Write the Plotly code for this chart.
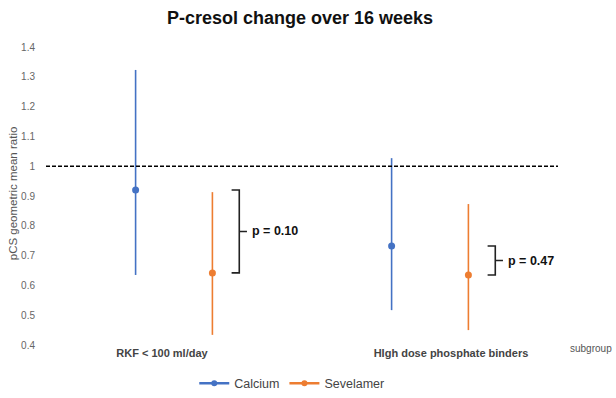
import plotly.graph_objects as go

categories = ["RKF < 100 ml/day", "High dose phosphate binders"]
tick_labels = ["RKF < 100 ml/day", "HIgh dose phosphate binders"]
calcium_mean = [0.92, 0.732]
calcium_upper = [1.323, 1.027]
calcium_lower = [0.635, 0.517]
sevelamer_mean = [0.642, 0.635]
sevelamer_upper = [0.913, 0.873]
sevelamer_lower = [0.434, 0.45]
p_values = ["p = 0.10", "p = 0.47"]
y_ticks = [0.4, 0.5, 0.6, 0.7, 0.8, 0.9, 1.0, 1.1, 1.2, 1.3, 1.4]
y_tick_text = ["0.4", "0.5", "0.6", "0.7", "0.8", "0.9", "1", "1.1", "1.2", "1.3", "1.4"]

BLUE = "#4472C4"
ORANGE = "#ED7D31"
offset = 0.15
xc = list(range(len(categories)))
label_shift = [-0.047, 0.082]

fig = go.Figure()

def add_series(name, color, means, up, lo, dx):
    xs = [x + dx for x in xc]
    fig.add_trace(go.Scatter(
        x=xs, y=means, mode="markers", showlegend=False,
        marker=dict(color=color, size=7),
        error_y=dict(type="data", symmetric=False,
                     array=[u - m for u, m in zip(up, means)],
                     arrayminus=[m - l for m, l in zip(means, lo)],
                     color=color, thickness=1.6, width=0),
    ))
    fig.add_trace(go.Scatter(
        x=[None], y=[None], mode="lines+markers", name=name,
        line=dict(color=color, width=2.5), marker=dict(color=color, size=6),
    ))

add_series("Calcium", BLUE, calcium_mean, calcium_upper, calcium_lower, -offset)
add_series("Sevelamer", ORANGE, sevelamer_mean, sevelamer_upper, sevelamer_lower, offset)

# reference line at 1
fig.add_shape(type="line", xref="paper", yref="y", x0=0, x1=1, y0=1, y1=1,
              line=dict(color="black", width=1.6, dash="4px,2px"))

# brackets with p-values
for i, p in enumerate(p_values):
    top = calcium_mean[i]
    bot = sevelamer_mean[i]
    bx = xc[i] + offset + 0.105
    arm = 0.03
    mid = (top + bot) / 2
    path = (f"M {bx-arm},{top} L {bx},{top} L {bx},{bot} L {bx-arm},{bot} "
            f"M {bx},{mid} L {bx+arm},{mid}")
    fig.add_shape(type="path", path=path, xref="x", yref="y",
                  line=dict(color="#222222", width=1.6))
    fig.add_annotation(x=bx + arm + 0.012, y=mid, text=f"<b>{p}</b>",
                       showarrow=False, xanchor="left", yanchor="middle",
                       font=dict(size=12.5, color="#111111"))

fig.add_annotation(text="subgroup", xref="paper", yref="paper", x=1.02, y=-0.013,
                   xanchor="left", yanchor="middle", showarrow=False,
                   font=dict(size=10, color="#555555"))
fig.add_annotation(text="pCS geometric mean ratio", xref="paper", yref="paper",
                   x=-0.064, xanchor="center", y=0.51, yanchor="middle", textangle=-90,
                   showarrow=False, font=dict(size=11.5, color="#555555"))

fig.update_layout(
    width=616, height=398,
    margin=dict(l=46, r=58, t=47, b=53, autoexpand=False),
    paper_bgcolor="white", plot_bgcolor="white",
    font=dict(family="Liberation Sans, Arial, sans-serif", color="#555555"),
    title=dict(text="<b>P-cresol change over 16 weeks</b>", x=0.487, xanchor="center",
               y=0.955, yanchor="middle", font=dict(size=18, color="#111111")),
    xaxis=dict(range=[-0.5, 1.5], tickvals=[x + s for x, s in zip(xc, label_shift)],
               ticktext=[f"<b>{t}</b>" for t in tick_labels], automargin=False,
               showgrid=False, zeroline=False, showline=False, ticks="",
               tickfont=dict(size=11, color="#444444")),
    yaxis=dict(range=[0.4, 1.4], tickvals=y_ticks, ticktext=y_tick_text, automargin=False,
               showgrid=False, zeroline=False, showline=False, ticks="",
               ticklabelstandoff=10, tickfont=dict(size=10, color="#666666")),
    legend=dict(orientation="h", x=0.48, xanchor="center", y=-0.13, yanchor="middle",
                font=dict(size=12.5, color="#444444"), tracegroupgap=0),
)

fig.write_html("out.html", config={"displayModeBar": False},
               post_script="document.body.style.margin='0';document.body.style.overflow='hidden';")
